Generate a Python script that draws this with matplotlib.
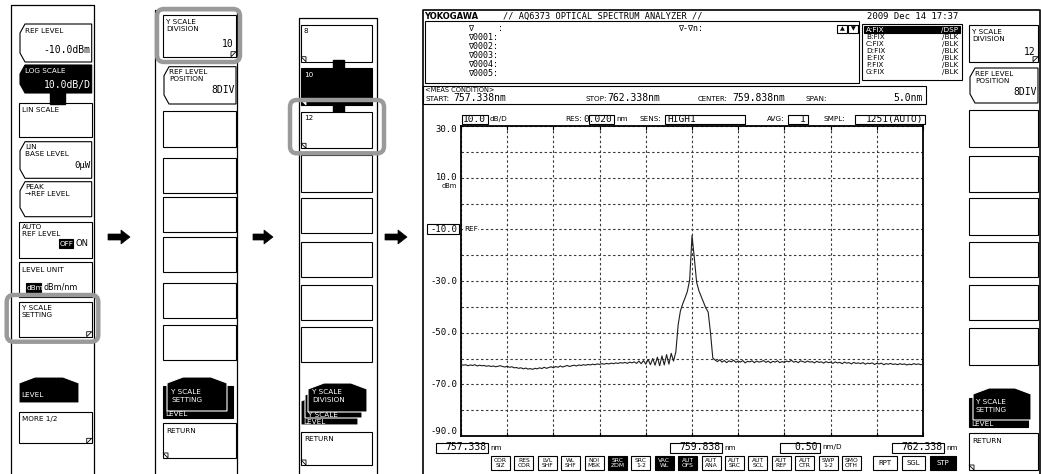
import numpy as np
import matplotlib
matplotlib.use("Agg")
import matplotlib.pyplot as plt
from matplotlib.patches import Rectangle, Polygon, FancyBboxPatch

W, H = 1041, 474

# spectrum: one reading every 0.025 nm from START to STOP
start_nm = 757.338
stop_nm = 762.338
center_nm = 759.838
level_dbm = [
    -62.3, -62.6, -62.4, -62.8, -62.5, -62.7, -62.4, -62.9, -62.6, -62.8,
    -62.7, -63.0, -62.8, -63.1, -62.9, -63.2, -63.0, -62.8, -63.1, -63.3,
    -63.0, -63.4, -63.2, -63.6, -63.5, -63.8, -63.6, -64.0, -63.7, -64.1,
    -63.9, -64.2, -63.8, -64.0, -63.6, -63.9, -63.4, -63.8, -63.5, -63.2,
    -63.6, -63.1, -63.4, -62.9, -63.3, -63.0, -62.7, -63.1, -62.8, -62.6,
    -62.9, -62.5, -62.7, -62.4, -62.6, -62.3, -62.5, -62.2, -62.4, -62.1,
    -62.3, -62.0, -62.2, -61.9, -62.1, -61.8, -62.0, -61.7, -61.9, -61.6,
    -61.8, -61.5, -61.9, -61.4, -61.7, -61.3, -61.9, -61.0, -62.0, -60.8,
    -62.2, -60.4, -62.4, -60.0, -62.6, -59.5, -62.8, -59.0, -62.5, -58.5,
    -62.2, -58.0, -61.0,
    -57.5, -47.0, -41.5, -38.8, -36.5, -34.0, -29.5, -12.4, -21.0, -30.5,
    -33.8, -36.0, -38.2, -40.5, -42.0, -50.0, -59.8,
    -60.6, -61.2, -60.5, -61.4, -60.8, -61.6, -60.9, -61.3, -60.7, -61.5,
    -61.0, -61.4, -60.8, -61.7, -61.1, -61.3, -60.9, -61.6, -61.0, -61.4,
    -61.2, -60.8, -61.5, -61.0, -61.7, -61.1, -61.4, -60.9, -61.6, -61.2,
    -61.5, -61.0, -61.3, -60.7, -61.4, -61.1, -61.6, -60.9, -61.2, -61.5,
    -61.0, -61.4, -61.2, -61.7, -61.1, -61.5, -61.3, -61.8, -61.2, -61.6,
    -61.4, -61.9, -61.3, -61.7, -61.5, -62.0, -61.4, -61.8, -61.6, -62.1,
    -61.5, -61.9, -61.7, -62.0, -61.6, -62.2, -61.8, -62.0, -61.7, -62.3,
    -61.9, -62.1, -61.8, -62.4, -62.0, -62.2, -61.9, -62.3, -62.1, -62.4,
    -62.0, -62.3, -62.1, -62.5, -62.2, -62.4, -62.0, -62.3, -62.1, -62.4, -62.2,
]
y_top, y_bottom = 30.0, -90.0
y_label_values = [30, 10, -10, -30, -50, -70, -90]
y_labels = ["30.0", "10.0", "-10.0", "-30.0", "-50.0", "-70.0", "-90.0"]
ref_level = -10.0

trace_names = ["A:FIX", "B:FIX", "C:FIX", "D:FIX", "E:FIX", "F:FIX", "G:FIX"]
trace_modes = ["/DSP", "/BLK", "/BLK", "/BLK", "/BLK", "/BLK", "/BLK"]
marker_rows = ["\u2207     :", "\u22070001:", "\u22070002:", "\u22070003:", "\u22070004:", "\u22070005:"]
bottom_buttons = ["COR\nSIZ", "RES\nCOR", "LVL\nSHF", "WL\nSHF", "NOI\nMSK", "SRC\nZOM",
                  "SRC\n1-2", "VAC\nWL", "AUT\nOFS", "AUT\nANA", "AUT\nSRC", "AUT\nSCL",
                  "AUT\nREF", "AUT\nCTR", "SWP\n1-2", "SMO\nOTH"]
active_buttons = ["SRC\nZOM", "VAC\nWL", "AUT\nOFS"]

SANS = ["DejaVu Sans"]
MONO = ["DejaVu Sans Mono", "DejaVu Sans"]

fig = plt.figure(figsize=(W / 100, H / 100), dpi=100)
fig.patch.set_facecolor("white")
ax0 = fig.add_axes([0, 0, 1, 1])
ax0.set_xlim(0, W)
ax0.set_ylim(H, 0)
ax0.axis("off")


def txt(x, y, s, size=5.2, color="black", ha="left", family=SANS, weight="normal", z=6, **kw):
    ax0.text(x, y, s, fontsize=size, color=color, ha=ha, va="center", family=family,
             fontweight=weight, zorder=z, linespacing=1.05, **kw)


def rect(x0, y0, x1, y1, fc="white", ec="black", lw=0.8, z=2):
    ax0.add_patch(Rectangle((x0, y0), x1 - x0, y1 - y0, fc=fc, ec=ec, lw=lw, zorder=z))


def key(x0, y0, x1, y1, shape="rect", fc="white", corner=None, z=3):
    if shape == "bracket":
        pts = [(x0 + 6, y0), (x1, y0), (x1, y1), (x0 + 6, y1), (x0 + 1, y1 - 9), (x0 + 1, y0 + 9)]
    else:
        pts = [(x0, y0), (x1, y0), (x1, y1), (x0, y1)]
    ax0.add_patch(Polygon(pts, closed=True, fc=fc, ec="black", lw=0.8, zorder=z))
    lc = "white" if fc == "black" else "black"
    if corner == "br":
        ax0.add_patch(Polygon([(x1 - 5, y1), (x1, y1 - 5), (x1 - 5, y1 - 5)], closed=True,
                              fc="white", ec=lc, lw=0.6, zorder=z + 0.1))
    elif corner == "bl":
        ax0.add_patch(Polygon([(x0 + 5, y1), (x0, y1 - 5), (x0 + 5, y1 - 5)], closed=True,
                              fc="white", ec=lc, lw=0.6, zorder=z + 0.1))


def house(x0, y0, x1, y1, z=3, ec="white"):
    pts = [(x0, y1), (x0, y0 + 6), (x0 + 16, y0), (x1 - 16, y0), (x1, y0 + 6), (x1, y1)]
    ax0.add_patch(Polygon(pts, closed=True, fc="black", ec=ec, lw=0.8, zorder=z))


def highlight(x0, y0, x1, y1):
    ax0.add_patch(FancyBboxPatch((x0, y0), x1 - x0, y1 - y0, boxstyle="round,pad=0,rounding_size=7",
                                 fc="none", ec="#9a9a9a", lw=3.2, zorder=8))


def arrow(x0, x1, y):
    pts = [(x0, y - 3), (x1 - 9, y - 3), (x1 - 9, y - 7), (x1, y), (x1 - 9, y + 7), (x1 - 9, y + 3), (x0, y + 3)]
    ax0.add_patch(Polygon(pts, closed=True, fc="black", ec="black", lw=0.5, zorder=5))


# ---------------- panel 1 ----------------
ax0.plot([10.7, 10.7, 94.3, 94.3], [H, 5, 5, H], color="black", lw=0.9, zorder=1)
kx0, kx1 = 19, 91.7
key(kx0, 24, kx1, 62, shape="bracket")
txt(kx0 + 6, 31, "REF LEVEL")
txt(kx1 - 1, 50, "-10.0dBm", size=7, ha="right", family=MONO)
ax0.add_patch(Rectangle((50, 90), 15, 14, fc="black", ec="black", zorder=3.5))
key(kx0, 65, kx1, 93, shape="bracket", fc="black")
txt(kx0 + 6, 71, "LOG SCALE", color="white")
txt(kx1 - 1, 85, "10.0dB/D", size=7, ha="right", family=MONO, color="white")
key(kx0, 102.7, kx1, 137.3)
txt(kx0 + 3, 110, "LIN SCALE")
key(kx0, 141.7, kx1, 178.3, shape="bracket")
txt(kx0 + 6, 147, "LIN")
txt(kx0 + 6, 154, "BASE LEVEL")
txt(kx1 - 1, 165, "0\u00b5W", size=6.5, ha="right", family=MONO)
key(kx0, 221.7, kx1, 258.3)
key(kx0, 181.7, kx1, 216.7, shape="bracket")
txt(kx0 + 6, 187, "PEAK")
txt(kx0 + 6, 194, "\u2192REF LEVEL")
txt(kx0 + 3, 227, "AUTO")
txt(kx0 + 3, 234, "REF LEVEL")
rect(59, 239, 73, 248, fc="black", ec="black", z=4)
txt(59.8, 243.5, "OFF", color="white", size=5.2)
txt(75, 243.5, "ON", size=6)
key(kx0, 261.7, kx1, 296.7)
txt(kx0 + 3, 270, "LEVEL UNIT")
rect(26, 282.5, 40.5, 292, fc="black", ec="black", z=4)
txt(26.6, 287.5, "dBm", color="white", size=5.3)
txt(43, 287.5, "dBm/nm", size=5.8)
key(kx0, 301.7, kx1, 336.7, corner="br")
txt(kx0 + 3, 308, "Y SCALE")
txt(kx0 + 3, 315, "SETTING")
highlight(6.7, 295, 98.3, 341.7)
house(kx0, 377, 79, 403)
txt(kx0 + 2, 395, "LEVEL", color="white")
key(kx0, 411.7, kx1, 443.3, corner="br")
txt(kx0 + 3, 419, "MORE 1/2")

arrow(108, 130, 237)

# ---------------- panel 2 ----------------
ax0.plot([155, 155, 237.3, 237.3], [H, 10, 10, H], color="black", lw=0.9, zorder=1)
kx0, kx1 = 163, 236
key(kx0, 15, kx1, 56.7, corner="br")
txt(kx0 + 3, 22, "Y SCALE")
txt(kx0 + 3, 29, "DIVISION")
txt(kx1 - 2, 44, "10", size=7, ha="right", family=MONO)
highlight(157, 9, 240, 62)
key(kx0, 66.7, kx1, 104, shape="bracket")
txt(kx0 + 6, 72, "REF LEVEL")
txt(kx0 + 6, 79, "POSITION")
txt(kx1 - 1, 90, "8DIV", size=7, ha="right", family=MONO)
for a, b in [(111, 146.7), (158, 193), (197, 232), (237, 272), (283, 318), (325, 360)]:
    key(kx0, a, kx1, b)
rect(163, 386, 233, 418, fc="black", ec="black", z=3)
house(167, 377, 227, 411, z=3.5)
txt(171, 392, "Y SCALE", color="white", z=7)
txt(171, 399.5, "SETTING", color="white", z=7)
txt(165, 414.5, "LEVEL", color="white", z=7)
key(kx0, 423, kx1, 458, corner="bl")
txt(kx0 + 3, 431, "RETURN")

arrow(253, 273, 237)

# ---------------- panel 3 ----------------
ax0.plot([299.3, 299.3, 377.3, 377.3], [H, 18.3, 18.3, H], color="black", lw=0.9, zorder=1)
kx0, kx1 = 301, 371.7
key(kx0, 25, kx1, 61.7, corner="bl")
txt(kx0 + 3, 31, "8")
ax0.add_patch(Rectangle((333, 60), 10.5, 53, fc="black", ec="black", zorder=3.5))
key(kx0, 68.3, kx1, 105, fc="black", corner="bl", z=3.6)
txt(kx0 + 3, 75, "10", color="white")
key(kx0, 111.7, kx1, 148.3, corner="bl", z=3.7)
txt(kx0 + 3, 118, "12")
highlight(290, 100, 384, 153.3)
for a, b in [(155, 191.7), (198.3, 233.3), (241.7, 276.7), (285, 320), (326.7, 361.7)]:
    key(kx0, a, kx1, b)
house(301, 395, 358, 425, z=3)
house(305, 389, 362, 418, z=3.3)
house(308, 383, 367, 412, z=3.6)
txt(312, 392, "Y SCALE", color="white", z=7)
txt(312, 399.5, "DIVISION", color="white", z=7)
txt(308, 415, "Y SCALE", color="white", z=7)
txt(303, 421.5, "LEVEL", color="white", z=7)
key(kx0, 431.7, kx1, 465, corner="bl")
txt(kx0 + 3, 439, "RETURN")

arrow(385, 407, 237)

# ---------------- analyzer screen ----------------
ax0.plot([422.5, 422.5, 1040, 1040], [H, 10, 10, H], color="black", lw=1.2, zorder=1)
txt(424, 16.5, "YOKOGAWA", size=6, weight="bold")
txt(503, 16.5, "// AQ6373 OPTICAL SPECTRUM ANALYZER //", size=6.2, family=MONO)
txt(958, 16.5, "2009 Dec 14 17:37", size=6.4, ha="right", family=MONO)

rect(425, 21, 859, 83, lw=0.8)
for i, s in enumerate(marker_rows):
    txt(468, 28 + 9 * i, s, size=6, family=MONO)
txt(678, 28, "\u2207-\u2207n:", size=6, family=MONO)
for bx, sym in [(837, "\u25b2"), (848, "\u25bc")]:
    rect(bx, 25, bx + 10, 33, z=4)
    txt(bx + 5, 29, sym, size=4.5, ha="center", z=7)

rect(862, 24, 962, 80, lw=0.8)
for i, (nm, md) in enumerate(zip(trace_names, trace_modes)):
    yy = 29.5 + 7 * i
    col = "black"
    if i == 0:
        rect(864, yy - 3.3, 960, yy + 3.3, fc="black", ec="black", z=4)
        col = "white"
    txt(866, yy, nm, size=5.2, color=col)
    txt(958, yy, md, size=5.2, color=col, ha="right")

rect(423, 86, 926, 104, lw=0.8)
txt(425, 90, "<MEAS CONDITION>", size=4.8)
txt(425, 98.5, "START:", size=5.2)
txt(453, 98, "757.338nm", size=7, family=MONO)
txt(586, 98.5, "STOP:", size=5.2)
txt(607, 98, "762.338nm", size=7, family=MONO)
txt(698, 98.5, "CENTER:", size=5.0)
txt(732, 98, "759.838nm", size=7, family=MONO)
txt(805, 98.5, "SPAN:", size=5.2)
txt(893, 98, "5.0nm", size=7, family=MONO)

# plot header row
hy = 119
rect(462, hy - 4.5, 488, hy + 4.5, z=4)
txt(486, hy, "10.0", size=6.8, ha="right", family=MONO)
txt(490, hy, "dB/D", size=5.2)
txt(565, hy, "RES:", size=5.2)
rect(589, hy - 4.5, 614, hy + 4.5, z=4)
txt(612, hy, "0.020", size=6.8, ha="right", family=MONO)
txt(616, hy, "nm", size=5.2)
txt(640, hy, "SENS:", size=5.2)
rect(665, hy - 4.5, 745, hy + 4.5, z=4)
txt(667, hy, "HIGH1", size=6.8, family=MONO)
txt(767, hy, "AVG:", size=5.2)
rect(788, hy - 4.5, 808, hy + 4.5, z=4)
txt(806, hy, "1", size=6.8, ha="right", family=MONO)
txt(823, hy, "SMPL:", size=5.2)
rect(855, hy - 4.5, 925, hy + 4.5, z=4)
txt(923, hy, "1251(AUTO)", size=6.8, ha="right", family=MONO)

# spectrum axes
px_l, px_r, px_t, px_b = 461, 923, 126, 436
ax = fig.add_axes([px_l / W, (H - px_b) / H, (px_r - px_l) / W, (px_b - px_t) / H])
wavelength_nm = np.linspace(start_nm, stop_nm, len(level_dbm))
ax.plot(wavelength_nm, level_dbm, color="#1e1e1e", lw=0.8, zorder=3)
ax.set_xlim(start_nm, stop_nm)
ax.set_ylim(y_bottom, y_top)
ax.set_xticks(np.linspace(start_nm, stop_nm, 11))
ax.set_yticks(np.arange(y_bottom, y_top + 1, 10))
ax.grid(True, color="#3a3a3a", lw=0.8, linestyle=(0, (2.2, 2.2)))
ax.tick_params(direction="in", length=3, width=0.8, top=True, right=False,
               labelbottom=False, labelleft=False)
ax.tick_params(axis="y", length=0)
for s in ax.spines.values():
    s.set_linewidth(1.3)
ax.set_facecolor("white")
ax.text(0.006, (ref_level - y_bottom) / (y_top - y_bottom), "REF", transform=ax.transAxes,
        fontsize=5.2, va="center", ha="left", family=SANS,
        bbox=dict(fc="white", ec="none", pad=0.3), zorder=4)


def ypix(v):
    return px_t + (y_top - v) / (y_top - y_bottom) * (px_b - px_t)


for v, s in zip(y_label_values, y_labels):
    yy = ypix(v)
    if v == y_top:
        yy += 4
    if v == y_bottom:
        yy -= 4
    if v == ref_level:
        rect(427, yy - 5, 459, yy + 5, z=4)
    txt(457, yy, s, size=6.4, ha="right", family=MONO)
txt(457, ypix(10) + 8, "dBm", size=4.8, ha="right")

# bottom wavelength boxes
by = 447.5
for x0, x1, s, unit in [(436, 488, "757.338", "nm"), (670, 722, "759.838", "nm"),
                        (780, 820, "0.50", "nm/D"), (892, 944, "762.338", "nm")]:
    rect(x0, by - 5, x1, by + 5, z=4)
    txt(x1 - 2, by, s, size=7, ha="right", family=MONO)
    txt(x1 + 2, by, unit, size=5.2)

# bottom function buttons
for i, lab in enumerate(bottom_buttons):
    x0 = 491 + 23.4 * i
    on = lab in active_buttons
    rect(x0, 456, x0 + 19, 470, fc="black" if on else "white", z=4)
    txt(x0 + 9.5, 463, lab, size=4.3, ha="center", color="white" if on else "black", z=7)
for x0, x1, lab, on in [(873, 897, "RPT", False), (902, 925, "SGL", False), (930, 956, "STP", True)]:
    rect(x0, 456, x1, 470, fc="black" if on else "white", z=4)
    txt((x0 + x1) / 2, 463, lab, size=5, ha="center", color="white" if on else "black", z=7)

# right soft keys
kx0, kx1 = 969, 1038
key(kx0, 25, kx1, 61.7, corner="br")
txt(kx0 + 3, 32, "Y SCALE")
txt(kx0 + 3, 39, "DIVISION")
txt(kx1 - 2, 52, "12", size=7, ha="right", family=MONO)
key(kx0, 68, kx1, 103, shape="bracket")
txt(kx0 + 6, 74, "REF LEVEL")
txt(kx0 + 6, 81, "POSITION")
txt(kx1 - 1, 92, "8DIV", size=7, ha="right", family=MONO)
for a, b in [(110, 146.7), (156, 191.7), (198.3, 235), (241.7, 276.7), (285, 320), (328.3, 365)]:
    key(kx0, a, kx1, b)
rect(969, 398, 1028, 427, fc="black", ec="black", z=3)
house(973, 388, 1031, 420, z=3.5)
txt(976, 402, "Y SCALE", color="white", z=7)
txt(976, 409.5, "SETTING", color="white", z=7)
txt(971, 423.5, "LEVEL", color="white", z=7)
key(kx0, 433, kx1, 470, corner="bl")
txt(kx0 + 3, 441, "RETURN")

fig.savefig("out.png", dpi=100, facecolor="white")
